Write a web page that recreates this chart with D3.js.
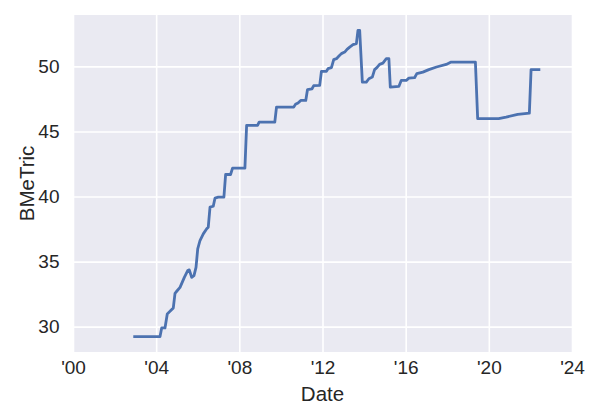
<!DOCTYPE html>
<html>
<head>
<meta charset="utf-8">
<script src="https://cdn.jsdelivr.net/npm/d3@7"></script>
<style>
  html, body { margin: 0; padding: 0; background: #ffffff; }
  svg { display: block; }
  text { font-family: "Liberation Sans", Arial, sans-serif; fill: #262626; }
</style>
</head>
<body>
<svg id="chart" width="600" height="420"></svg>
<script>
// ---- data ----
const dates = [
  "2002-11-25","2004-03-08","2004-04-07","2004-06-04","2004-07-14","2004-08-31","2004-10-28","2004-11-27",
  "2004-12-27","2005-02-23","2005-05-10","2005-07-08","2005-08-05","2005-09-16","2005-10-26","2005-12-01",
  "2005-12-31","2006-02-09","2006-04-08","2006-06-07","2006-07-04","2006-08-04","2006-09-30","2006-10-30",
  "2006-12-27","2007-04-05","2007-05-05","2007-07-31","2007-09-04","2008-04-08","2008-05-08","2008-11-16",
  "2008-12-14","2009-09-15","2009-10-15","2010-08-14","2010-09-13","2010-10-28","2010-12-15","2011-03-13",
  "2011-04-12","2011-07-01","2011-07-31","2011-11-13","2011-12-13","2012-03-10","2012-04-07","2012-06-06",
  "2012-07-16","2012-09-02","2012-10-12","2012-11-28","2013-01-25","2013-03-07","2013-04-23","2013-06-20",
  "2013-08-18","2013-09-15","2013-10-15","2013-12-01","2014-02-09","2014-03-26","2014-05-25","2014-07-04",
  "2014-08-13","2014-09-30","2014-11-27","2015-01-26","2015-03-12","2015-04-06","2015-09-03","2015-10-15",
  "2016-01-11","2016-02-26","2016-06-05","2016-07-15","2016-10-29","2017-02-11","2017-06-26","2017-12-13",
  "2018-03-10","2019-05-10","2019-06-19","2020-06-22","2020-10-30","2021-05-22","2021-12-13","2022-01-12",
  "2022-06-23"
];
const bmetric = [
  29.23,29.23,29.90,29.90,30.98,31.18,31.44,32.56,
  32.72,33.02,33.79,34.31,34.36,33.79,33.92,34.56,
  35.98,36.62,37.13,37.52,37.64,39.18,39.25,39.87,
  39.95,39.95,41.69,41.69,42.18,42.18,45.46,45.46,
  45.72,45.72,46.87,46.87,47.08,47.18,47.38,47.38,
  48.21,48.28,48.52,48.54,49.62,49.62,49.82,49.90,
  50.52,50.59,50.77,50.98,51.10,51.31,51.48,51.67,
  51.75,52.77,52.77,48.79,48.79,49.05,49.18,49.75,
  49.90,50.15,50.25,50.59,50.59,48.41,48.46,48.92,
  48.92,49.10,49.13,49.44,49.56,49.75,49.95,50.15,
  50.33,50.33,45.98,45.98,46.10,46.31,46.41,49.75,
  49.75
];
const xTickYears = [2000, 2004, 2008, 2012, 2016, 2020, 2024];
const yTickValues = [30, 35, 40, 45, 50];
const xLabel = "Date";
const yLabel = "BMeTric";

// ---- layout ----
const W = 600, H = 420;
const margin = { top: 15, right: 28, bottom: 68, left: 73 };
const innerW = W - margin.left - margin.right;
const innerH = H - margin.top - margin.bottom;

const parse = d3.timeParse("%Y-%m-%d");
const data = dates.map((d, i) => ({ date: parse(d), value: bmetric[i] }));

const x = d3.scaleTime()
  .domain([new Date(2000, 0, 1), new Date(2024, 0, 1)])
  .range([0, innerW]);

const vMin = d3.min(bmetric), vMax = d3.max(bmetric);
const pad = (vMax - vMin) * 0.05;
const y = d3.scaleLinear()
  .domain([vMin - pad, vMax + pad])
  .range([innerH, 0]);

const svg = d3.select("#chart");
const g = svg.append("g").attr("transform", `translate(${margin.left},${margin.top})`);

// background
g.append("rect").attr("width", innerW).attr("height", innerH).attr("fill", "#EAEAF2");

// grid via axes
const xTicks = xTickYears.map(yr => new Date(yr, 0, 1));
const xGrid = d3.axisBottom(x).tickValues(xTicks).tickSize(-innerH).tickFormat("");
const yGrid = d3.axisLeft(y).tickValues(yTickValues).tickSize(-innerW).tickFormat("");

g.append("g").attr("transform", `translate(0,${innerH})`).call(xGrid)
  .call(s => s.select(".domain").remove())
  .call(s => s.selectAll("line").attr("stroke", "#ffffff").attr("stroke-width", 1.6));
g.append("g").call(yGrid)
  .call(s => s.select(".domain").remove())
  .call(s => s.selectAll("line").attr("stroke", "#ffffff").attr("stroke-width", 1.6));

// tick labels via axes
const xAxis = d3.axisBottom(x).tickValues(xTicks).tickSize(0).tickPadding(9)
  .tickFormat(d => "'" + d3.timeFormat("%y")(d));
const yAxis = d3.axisLeft(y).tickValues(yTickValues).tickSize(0).tickPadding(13.5)
  .tickFormat(d3.format("d"));

g.append("g").attr("transform", `translate(0,${innerH})`).call(xAxis)
  .call(s => s.select(".domain").remove())
  .call(s => s.selectAll("text").attr("font-size", 19).attr("fill", "#262626")
    .attr("font-family", "'Liberation Sans', Arial, sans-serif"));
g.append("g").call(yAxis)
  .call(s => s.select(".domain").remove())
  .call(s => s.selectAll("text").attr("font-size", 19).attr("fill", "#262626")
    .attr("font-family", "'Liberation Sans', Arial, sans-serif"));

// line
const line = d3.line().x(d => x(d.date)).y(d => y(d.value));
g.append("path").datum(data)
  .attr("d", line)
  .attr("fill", "none")
  .attr("stroke", "#4C72B0")
  .attr("stroke-width", 2.8)
  .attr("stroke-linejoin", "round")
  .attr("stroke-linecap", "butt");

// axis labels
svg.append("text")
  .attr("x", margin.left + innerW / 2)
  .attr("y", 401)
  .attr("text-anchor", "middle")
  .attr("font-size", 20.5)
  .text(xLabel);

svg.append("text")
  .attr("transform", `translate(33.5,${margin.top + innerH / 2}) rotate(-90)`)
  .attr("text-anchor", "middle")
  .attr("font-size", 20.5)
  .text(yLabel);
</script>
</body>
</html>
